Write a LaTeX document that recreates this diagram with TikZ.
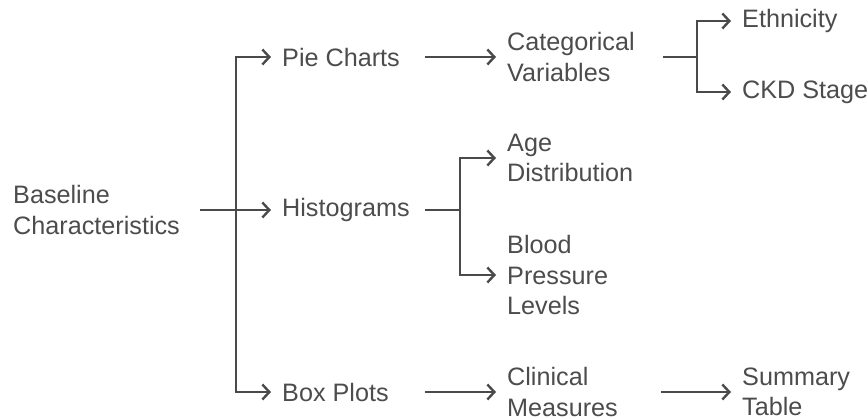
\documentclass[tikz,border=0pt]{standalone}
\usepackage{fontspec}
\setmainfont{Liberation Sans}
\usetikzlibrary{arrows.meta}
\definecolor{ink}{HTML}{4A4A4A}
\definecolor{txt}{HTML}{4C4C4C}
\begin{document}
\begin{tikzpicture}[x=1pt,y=-1pt,
  lbl/.style={anchor=west,inner sep=0pt,align=left,text=txt,font=\fontsize{25.2}{30.5}\selectfont},
  conn/.style={draw=ink,line width=2.4pt},
  arr/.style={conn,-{Straight Barb[length=7pt,width=15pt,line width=2.4pt]},shorten >=11pt}]
\useasboundingbox (0,0) rectangle (868,418);
% nodes
\node[lbl] (base) at (13,210) {Baseline\\Characteristics};
\node[lbl] (pie) at (282,57) {Pie Charts};
\node[lbl] (hist) at (282,210) {Histograms};
\node[lbl] (box) at (282,392) {Box Plots};
\node[lbl] (cat) at (507,57) {Categorical\\Variables};
\node[lbl] (age) at (507,158) {Age\\Distribution};
\node[lbl] (bpl) at (507,275) {Blood\\Pressure\\Levels};
\node[lbl] (clin) at (507,392) {Clinical\\Measures};
\node[lbl] (eth) at (742,21) {Ethnicity};
\node[lbl] (ckd) at (742,92) {CKD Stage};
\node[lbl] (sum) at (742,392) {Summary\\Table};
% junction x positions
\coordinate (b0) at (200,0);
\coordinate (j1) at (236,0);
\coordinate (p0) at (425,0);
\coordinate (j2) at (460,0);
\coordinate (c0) at (663,0);
\coordinate (j3) at (697,0);
\coordinate (m0) at (661,0);
% connectors
\draw[conn] (hist.west -| b0) -- (hist.west -| j1);
\draw[arr] (hist.west -| j1) |- (pie.west);
\draw[arr] (hist.west -| j1) -- (hist.west);
\draw[arr] (hist.west -| j1) |- (box.west);
\draw[arr] (cat.west -| p0) -- (cat.west);
\draw[conn] (hist.west -| p0) -- (hist.west -| j2);
\draw[arr] (hist.west -| j2) |- (age.west);
\draw[arr] (hist.west -| j2) |- (bpl.west);
\draw[arr] (clin.west -| p0) -- (clin.west);
\draw[conn] (cat.west -| c0) -- (cat.west -| j3);
\draw[arr] (cat.west -| j3) |- (eth.west);
\draw[arr] (cat.west -| j3) |- (ckd.west);
\draw[arr] (sum.west -| m0) -- (sum.west);
\end{tikzpicture}
\end{document}
